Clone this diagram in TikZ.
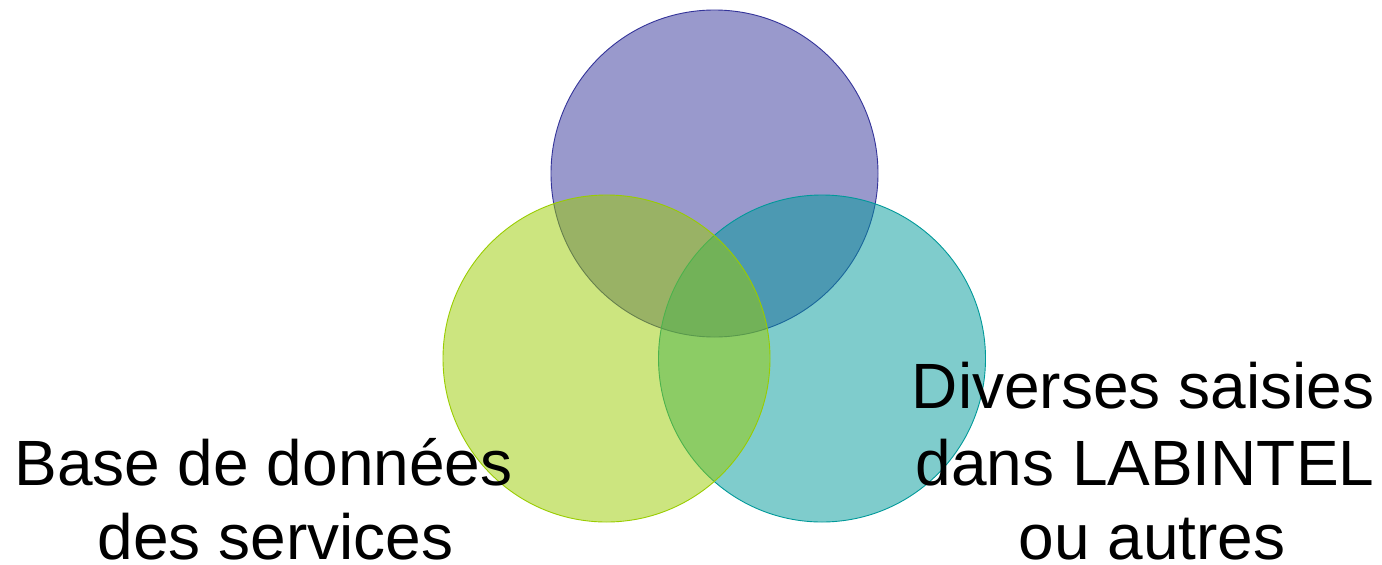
\documentclass[tikz,border=0pt]{standalone}
\usepackage{fontspec}
\setmainfont{Liberation Sans}
\definecolor{cTop}{HTML}{333399}
\definecolor{cLeft}{HTML}{99CC00}
\definecolor{cRight}{HTML}{009999}
\newcommand{\nodepth}[1]{\raisebox{0pt}[\height][0pt]{#1}}
\begin{document}
\begin{tikzpicture}[x=1pt,y=-1pt,
  venn/.style={circle, minimum size=327pt, inner sep=0pt, fill opacity=0.5, draw opacity=1, line width=0.9pt},
  lbl/.style={anchor=base, inner sep=0pt, font=\fontsize{64}{76}\selectfont}]
\useasboundingbox (0,0) rectangle (1382,565);
\node[venn, draw=cTop, fill=cTop] (top) at (714.5,173.5) {};
\node[venn, draw=cRight, fill=cRight] (right) at (822,358.5) {};
\node[venn, draw=cLeft, fill=cLeft] (left) at (606.5,358.5) {};
\node[lbl] (l1) at (263.5,485) {\nodepth{Base de données}};
\node[lbl] (l2) at (275.5,559.5) {\nodepth{des services}};
\node[lbl] (r1) at (1143,408) {\nodepth{Diverses saisies}};
\node[lbl] (r2) at (1145,485) {\nodepth{dans LABINTEL}};
\node[lbl] (r3) at (1152,559.5) {\nodepth{ou autres}};
\end{tikzpicture}
\end{document}
